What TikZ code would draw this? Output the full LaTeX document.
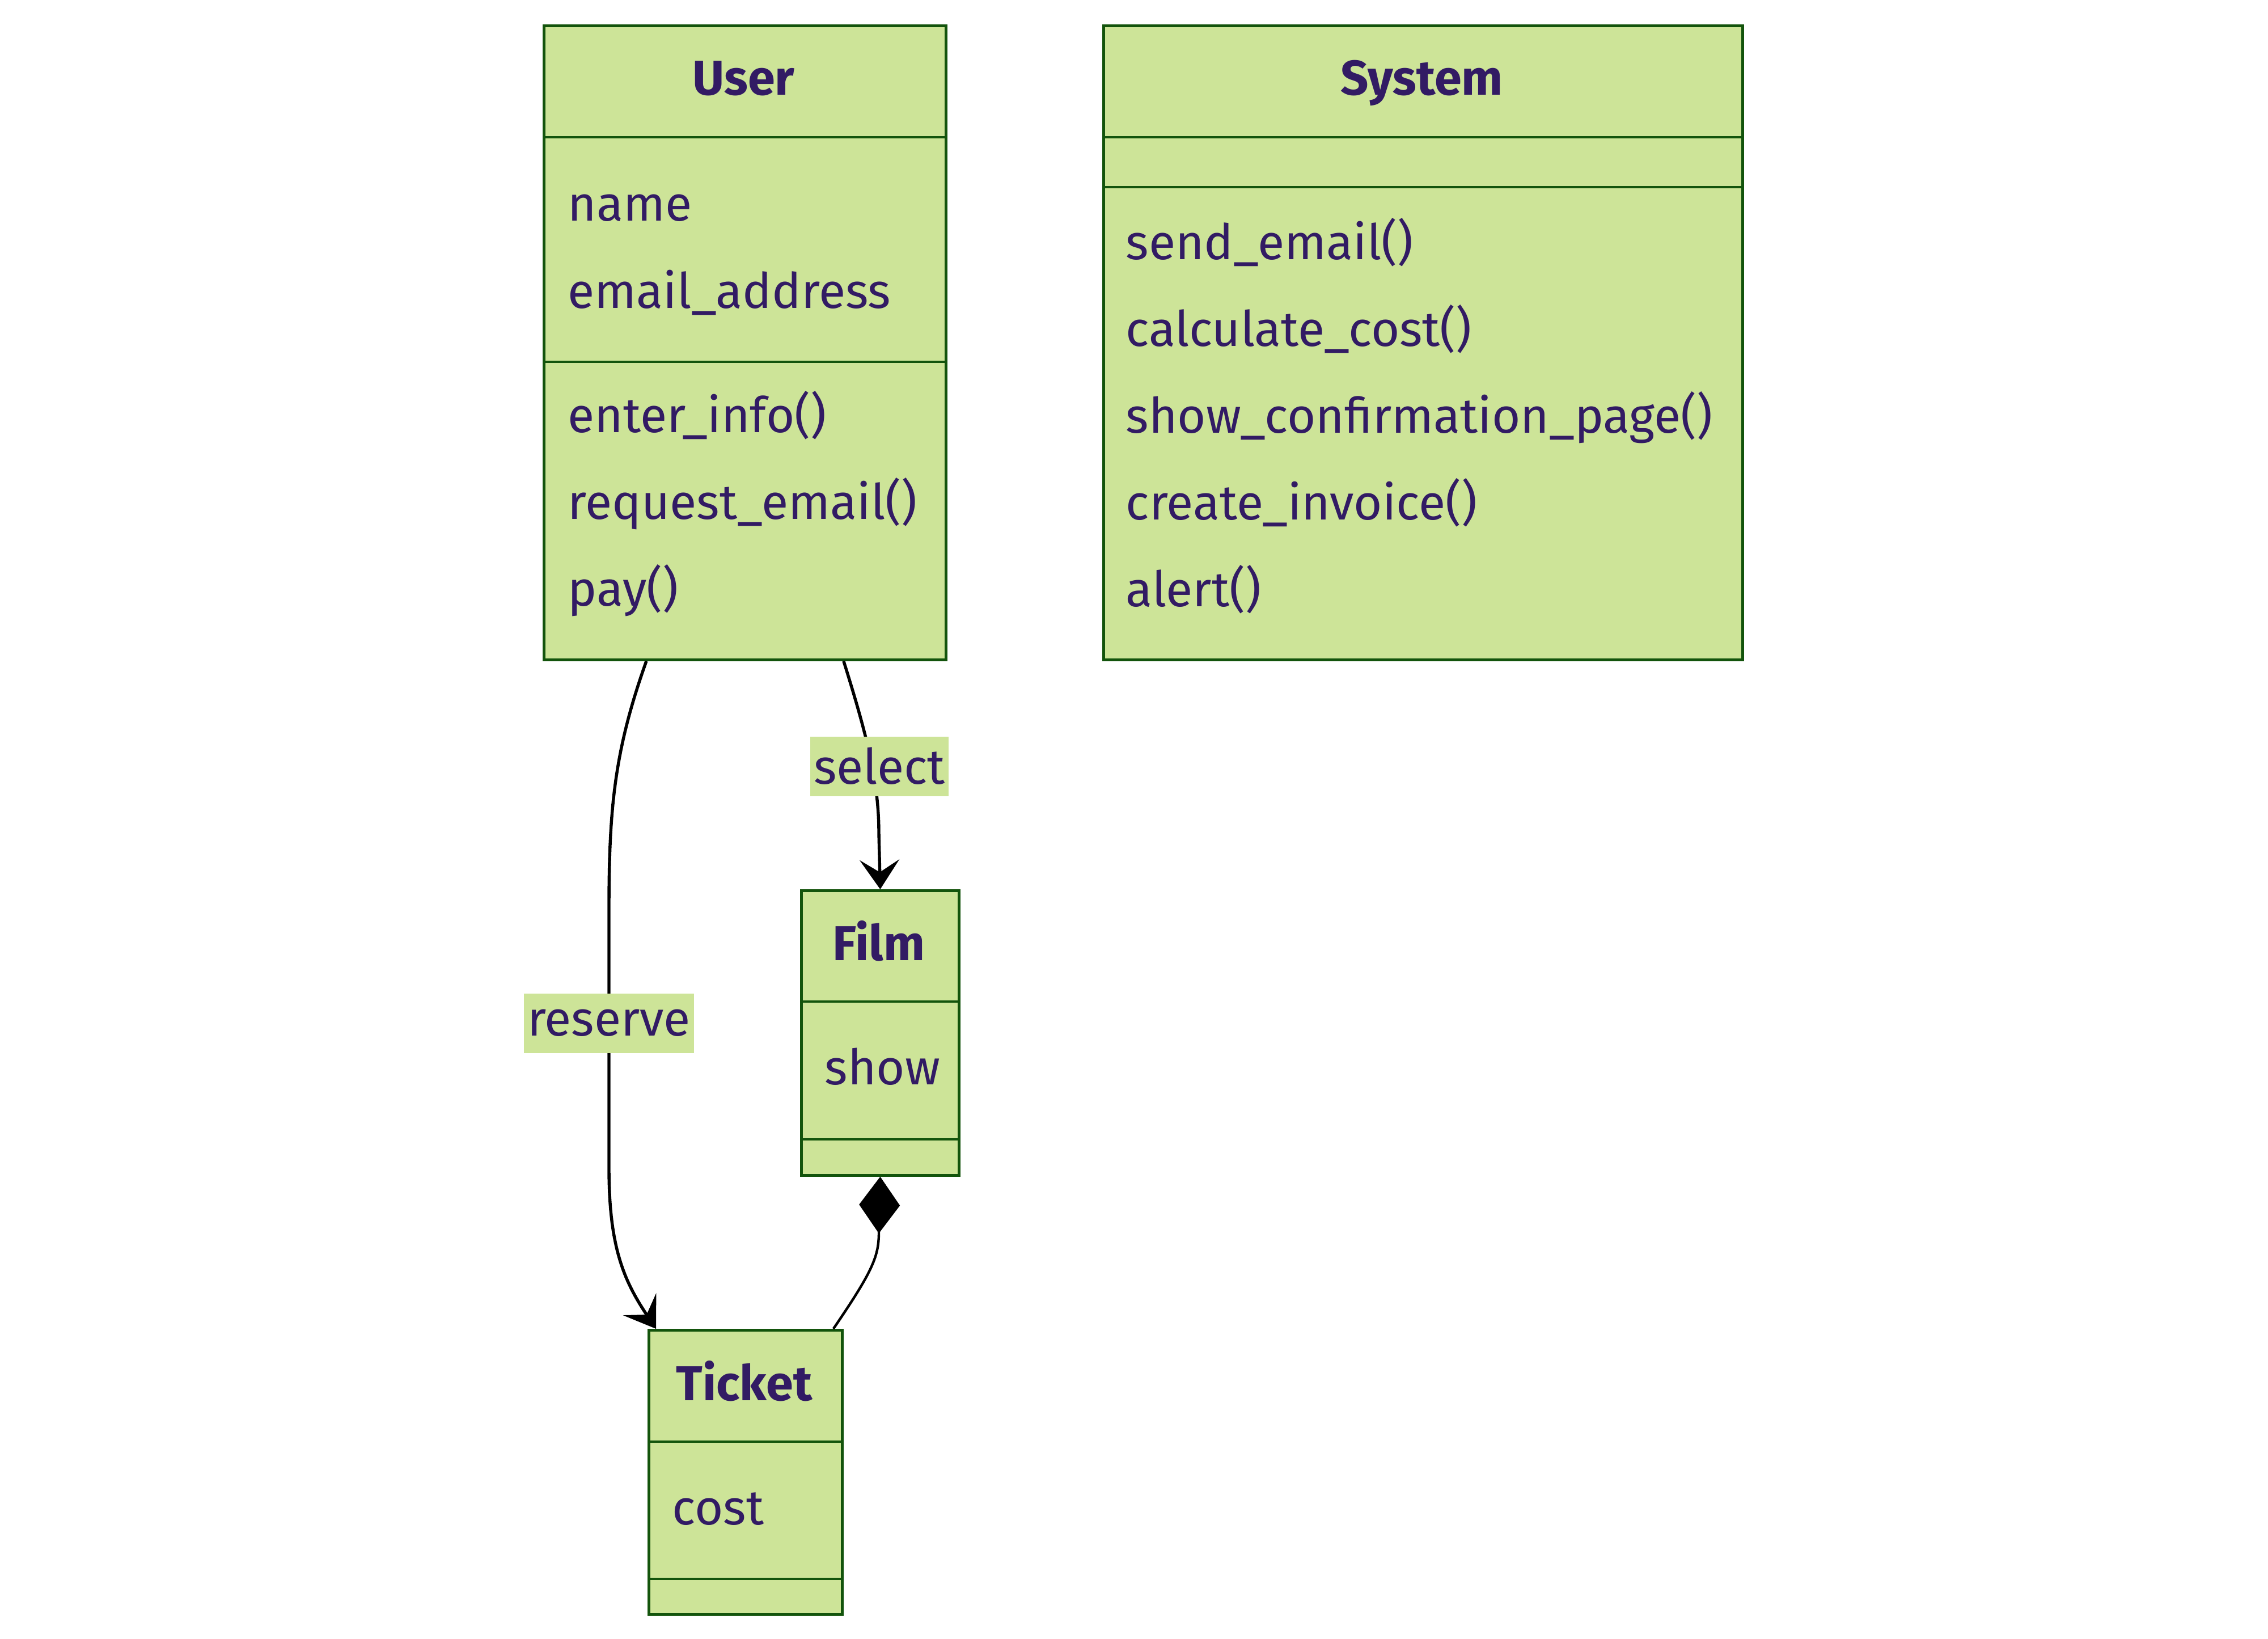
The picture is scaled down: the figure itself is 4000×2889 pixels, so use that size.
\documentclass[tikz,border=0pt]{standalone}
\usepackage{fontspec}
\setmainfont{Fira Sans}
\usetikzlibrary{arrows.meta,calc}
\definecolor{cfill}{HTML}{CDE498}
\definecolor{cline}{HTML}{13540C}
\definecolor{ctext}{RGB}{50,27,100}
\newcommand{\txtsize}{\fontsize{21.6}{26}\selectfont}
\begin{document}
\begin{tikzpicture}[x=0.25pt,y=-0.25pt,
  classbox/.style={draw=cline, fill=cfill, line width=1.2pt, inner sep=0pt, anchor=north west},
  divider/.style={draw=cline, line width=1.1pt},
  title/.style={font=\txtsize\bfseries, text=ctext, anchor=base, inner sep=0pt},
  member/.style={font=\txtsize, text=ctext, anchor=base west, inner sep=0pt},
  edge/.style={draw=black, line width=1.35pt},
  elabel/.style={fill=cfill, text=ctext, font=\txtsize, inner xsep=1.5pt, inner ysep=0pt, minimum height=26.25pt},
  vee/.style={-{Stealth[length=13pt,width=17.5pt,inset=5.5pt]}},
  compo/.style={-{Diamond[length=25pt,width=18pt]}}
]
\useasboundingbox (0,0) rectangle (4000,2889);

% ---- User ----
\node[classbox, minimum width=177.25pt, minimum height=279.5pt] (user) at (957,43) {};
\draw[divider] (user.west |- 0,242) -- (user.east |- 0,242);
\draw[divider] (user.west |- 0,638) -- (user.east |- 0,638);
\node[title] (usert) at (1311.5,168) {User};
\node[member] (u1) at (1001,390) {name};
\node[member] (u2) at (1001,543) {email\_address};
\node[member] (u3) at (1001,762) {enter\_info()};
\node[member] (u4) at (1001,915) {request\_email()};
\node[member] (u5) at (1001,1068) {pay()};

% ---- System ----
\node[classbox, minimum width=281.75pt, minimum height=279.5pt] (sys) at (1944,43) {};
\draw[divider] (sys.west |- 0,242) -- (sys.east |- 0,242);
\draw[divider] (sys.west |- 0,330) -- (sys.east |- 0,330);
\node[title] (syst) at (2507.5,168) {System};
\node[member] (s1) at (1985,457) {send\_email()};
\node[member] (s2) at (1985,610) {calculate\_cost()};
\node[member] (s3) at (1985,763) {show\_confirmation\_page()};
\node[member] (s4) at (1985,916) {create\_invoice()};
\node[member] (s5) at (1985,1069) {alert()};

% ---- Film ----
\node[classbox, minimum width=69.5pt, minimum height=125.5pt] (film) at (1411,1568) {};
\draw[divider] (film.west |- 0,1766) -- (film.east |- 0,1766);
\draw[divider] (film.west |- 0,2009) -- (film.east |- 0,2009);
\node[title] (filmt) at (1550,1693) {Film};
\node[member] (f1) at (1454,1912) {show};

% ---- Ticket ----
\node[classbox, minimum width=85.25pt, minimum height=125.25pt] (ticket) at (1142,2343) {};
\draw[divider] (ticket.west |- 0,2542) -- (ticket.east |- 0,2542);
\draw[divider] (ticket.west |- 0,2784) -- (ticket.east |- 0,2784);
\node[title] (tickett) at (1312.5,2469) {Ticket};
\node[member] (t1) at (1185,2688) {cost};

% ---- connectors ----
\draw[edge, vee] ($(user.south)+(-174,0)$) .. controls (1085,1320) and (1074,1420) .. (1074,1600)
   -- (1074,2060) .. controls (1074,2200) and (1101,2259) .. ($(ticket.north west)+(15,0)$);
\node[elabel] (lres) at (1074,1804) {reserve};

\draw[edge, vee] ($(user.south)+(174,0)$) .. controls (1530,1300) and (1550,1380) .. (1550,1470)
   -- (film.north);
\node[elabel] (lsel) at (1551,1351) {select};

\draw[edge, line width=1.1pt, compo] ($(ticket.north east)+(-18,0)$) .. controls (1540,2240) and (1550,2215) .. (1550,2172)
   -- (film.south);
\end{tikzpicture}
\end{document}
